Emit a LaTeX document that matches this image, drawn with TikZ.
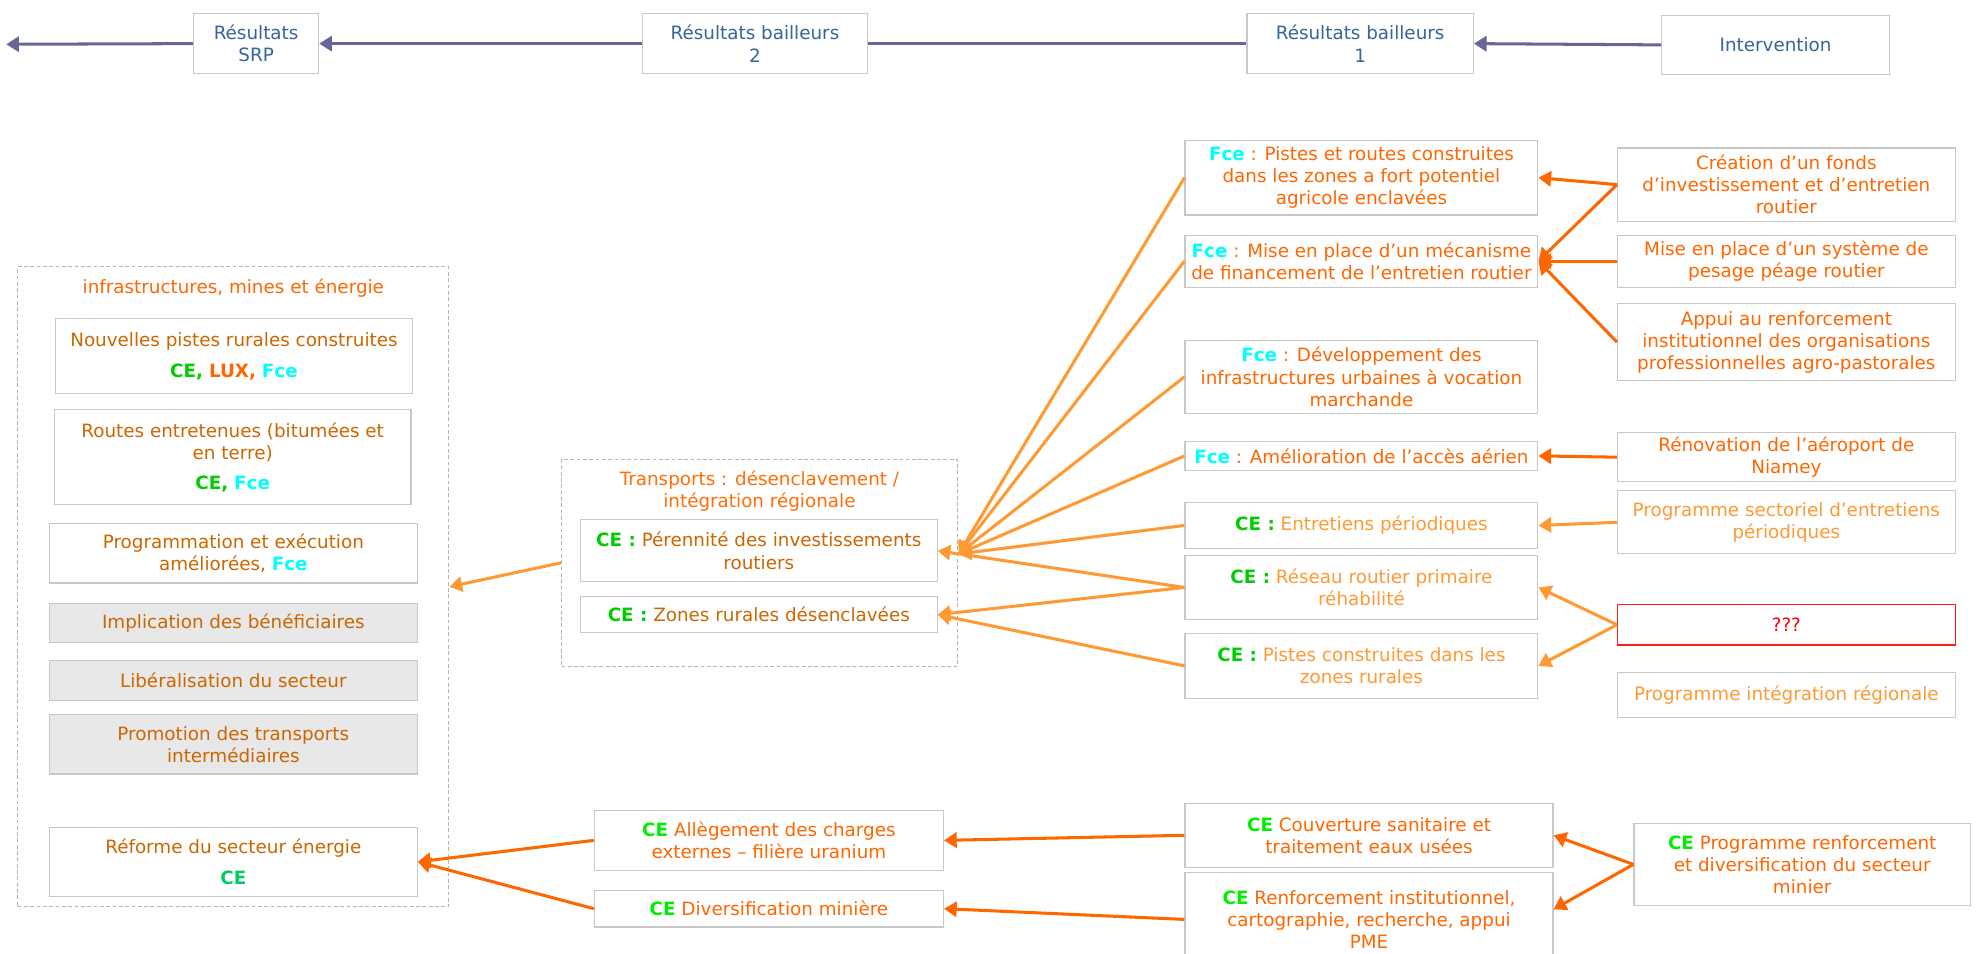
\documentclass[tikz,border=0pt]{standalone}
\usepackage{fontspec}
\setmainfont{DejaVu Sans}
\usetikzlibrary{arrows.meta}
\definecolor{topline}{HTML}{666699}
\definecolor{toptext}{HTML}{35659A}
\definecolor{darkor}{HTML}{FF6600}
\definecolor{lightor}{HTML}{FF9933}
\definecolor{brownor}{HTML}{CC6600}
\definecolor{cegreen}{HTML}{00CC00}
\definecolor{cebright}{HTML}{00EE00}
\definecolor{ceteal}{HTML}{00CC66}
\definecolor{fcecyan}{HTML}{00FFFF}
\definecolor{boxgray}{HTML}{C8C8C8}
\definecolor{graybg}{HTML}{E8E8E8}
\definecolor{dotgray}{HTML}{B4B4B4}
\definecolor{redline}{HTML}{FF1A1A}
\newcommand{\fs}{\fontsize{14.5}{17.5}\selectfont}
\newcommand{\tce}[1]{{\bfseries\color{cegreen}#1}}
\newcommand{\tcb}[1]{{\bfseries\color{cebright}#1}}
\newcommand{\tfce}[1]{{\bfseries\color{fcecyan}#1}}
\newcommand{\tlux}[1]{{\bfseries\color{darkor}#1}}
\tikzset{
  box/.style={draw=boxgray, line width=0.9pt, fill=white, align=center, inner sep=0pt, font=\fs},
  gbox/.style={box, fill=graybg},
  cont/.style={draw=dotgray, line width=0.8pt, densely dashed, inner sep=0pt},
  lbl/.style={align=center, inner sep=0pt, font=\fs},
  arr/.style={line width=2.4pt, -{Triangle[length=10pt,width=12pt]}},
  darr/.style={arr, draw=darkor, fill=darkor},
  larr/.style={arr, draw=lightor, fill=lightor},
  tarr/.style={arr, draw=topline, fill=topline},
}
\begin{document}
\begin{tikzpicture}[x=1pt,y=-1pt]
\useasboundingbox[fill=white] (0,0) rectangle (1568,754);

% top row
\node[box, text=toptext, minimum width=99pt, minimum height=47pt] (srp) at (202.5,34.5) {Résultats\\SRP};
\node[box, text=toptext, minimum width=178pt, minimum height=47pt] (rb2) at (597,34.5) {Résultats bailleurs\\2};
\node[box, text=toptext, minimum width=179pt, minimum height=47pt] (rb1) at (1075.5,34.5) {Résultats bailleurs\\1};
\node[box, text=toptext, minimum width=180pt, minimum height=47pt] (intv) at (1404,35.5) {Intervention};
\coordinate (leftend) at (5,35);

% column 4
\node[box, text=darkor, minimum width=267pt, minimum height=58pt] (cre) at (1412.5,146) {Création d’un fonds\\d’investissement et d’entretien\\routier};
\node[box, text=darkor, minimum width=267pt, minimum height=41pt] (pes) at (1412.5,206.5) {Mise en place d’un système de\\pesage péage routier};
\node[box, text=darkor, minimum width=267pt, minimum height=61pt] (app) at (1412.5,270.5) {Appui au renforcement\\institutionnel des organisations\\professionnelles agro-pastorales};
\node[box, text=darkor, minimum width=267pt, minimum height=39pt] (ren) at (1412.5,361.5) {Rénovation de l’aéroport de\\Niamey};
\node[box, text=lightor, minimum width=267pt, minimum height=50pt] (pse) at (1412.5,413) {Programme sectoriel d’entretiens\\périodiques};
\node[box, draw=redline, text=red, minimum width=267pt, minimum height=32pt] (qqq) at (1412.5,494) {???};
\node[box, text=lightor, minimum width=267pt, minimum height=35pt] (pir) at (1412.5,549.5) {Programme intégration régionale};
\node[box, text=darkor, minimum width=266pt, minimum height=65pt] (prm) at (1425,683.5) {\tcb{CE} Programme renforcement\\et diversification du secteur\\minier};

% column 3
\node[box, text=darkor, minimum width=279pt, minimum height=59pt] (fpr) at (1076.5,140.5) {\tfce{Fce} : Pistes et routes construites\\dans les zones a fort potentiel\\agricole enclavées};
\node[box, text=darkor, minimum width=279pt, minimum height=41pt] (fmi) at (1076.5,206.5) {\tfce{Fce} : Mise en place d’un mécanisme\\de financement de l’entretien routier};
\node[box, text=darkor, minimum width=279pt, minimum height=58pt] (fde) at (1076.5,298) {\tfce{Fce} : Développement des\\infrastructures urbaines à vocation\\marchande};
\node[box, text=darkor, minimum width=279pt, minimum height=23pt] (fam) at (1076.5,360.5) {\tfce{Fce} : Amélioration de l’accès aérien};
\node[box, text=lightor, minimum width=279pt, minimum height=37pt] (cen) at (1076.5,415.5) {\tce{CE :} Entretiens périodiques};
\node[box, text=lightor, minimum width=279pt, minimum height=51pt] (crs) at (1076.5,464.5) {\tce{CE :} Réseau routier primaire\\réhabilité};
\node[box, text=lightor, minimum width=279pt, minimum height=51pt] (cpi) at (1076.5,526.5) {\tce{CE :} Pistes construites dans les\\zones rurales};
\node[box, text=darkor, minimum width=291pt, minimum height=51pt] (cou) at (1082.5,660.5) {\tcb{CE} Couverture sanitaire et\\traitement eaux usées};
\node[box, text=darkor, minimum width=291pt, minimum height=74pt] (crf) at (1082.5,727) {\tcb{CE} Renforcement institutionnel,\\cartographie, recherche, appui\\PME};

% column 2
\node[cont, minimum width=313pt, minimum height=164pt] (trc) at (600.5,445) {};
\node[lbl, text=darkor!85!lightor] (trt) at (600.5,388) {Transports : désenclavement /\\intégration régionale};
\node[box, text=brownor, minimum width=282pt, minimum height=49pt] (per) at (600,435.5) {\tce{CE :} Pérennité des investissements\\routiers};
\node[box, text=brownor, minimum width=282pt, minimum height=28pt] (zon) at (600,486) {\tce{CE :} Zones rurales désenclavées};
\node[box, text=darkor, minimum width=276pt, minimum height=47pt] (all) at (608,664.5) {\tcb{CE} Allègement des charges\\externes – filière uranium};
\node[box, text=darkor, minimum width=276pt, minimum height=29pt] (div) at (608,718.5) {\tcb{CE} Diversification minière};
\coordinate (pc) at (758,438);

% column 1
\node[cont, minimum width=341pt, minimum height=506pt] (lc) at (184.5,464) {};
\node[lbl, text=darkor] (lct) at (184.5,228) {infrastructures, mines et énergie};
\node[box, text=brownor, minimum width=282pt, minimum height=59pt] (npr) at (185,281.5) {Nouvelles pistes rurales construites\\[7pt]\tce{CE,} \tlux{LUX,} \tfce{Fce}};
\node[box, text=brownor, minimum width=282pt, minimum height=75pt] (rte) at (184,361.5) {Routes entretenues (bitumées et\\en terre)\\[6pt]\tce{CE,} \tfce{Fce}};
\node[box, text=brownor, minimum width=291pt, minimum height=47pt] (pgm) at (184.5,437.5) {Programmation et exécution\\améliorées, \tfce{Fce}};
\node[gbox, text=brownor, minimum width=291pt, minimum height=31pt] (imp) at (184.5,492.5) {Implication des bénéficiaires};
\node[gbox, text=brownor, minimum width=291pt, minimum height=32pt] (lib) at (184.5,538) {Libéralisation du secteur};
\node[gbox, text=brownor, minimum width=291pt, minimum height=47pt] (pro) at (184.5,588.5) {Promotion des transports\\intermédiaires};
\node[box, text=brownor, minimum width=291pt, minimum height=55pt] (ref) at (184.5,681.5) {Réforme du secteur énergie\\[7pt]{\bfseries\color{ceteal}CE}};

% top connectors
\draw[tarr] (intv.west) -- (rb1.east);
\draw[topline, line width=2.4pt] (rb1.west) -- (rb2.east);
\draw[tarr] (rb2.west) -- (srp.east);
\draw[tarr] (srp.west) -- (leftend);

% column 4 -> column 3
\draw[darr] (cre.west) -- (fpr.east);
\draw[darr] (cre.west) -- (fmi.east);
\draw[darr] (pes.west) -- (fmi.east);
\draw[darr] (app.west) -- (fmi.east);
\draw[darr] (ren.west) -- (fam.east);
\draw[larr] (pse.west) -- (cen.east);
\draw[larr] (qqq.west) -- (crs.east);
\draw[larr] (qqq.west) -- (cpi.east);
\draw[darr] (prm.west) -- (cou.east);
\draw[darr] (prm.west) -- ([yshift=8pt]crf.east);

% column 3 -> column 2
\draw[larr] (fpr.west) -- (pc);
\draw[larr] (fmi.west) -- (pc);
\draw[larr] (fde.west) -- (pc);
\draw[larr] (fam.west) -- (pc);
\draw[larr] (cen.west) -- (pc);
\draw[larr] (crs.west) -- (per.east);
\draw[larr] (crs.west) -- (zon.east);
\draw[larr] (cpi.west) -- (zon.east);
\draw[darr] (cou.west) -- (all.east);
\draw[darr] (crf.west) -- (div.east);

% column 2 -> column 1
\draw[larr] (trc.west) -- (lc.east);
\draw[darr] (all.west) -- (ref.east);
\draw[darr] (div.west) -- (ref.east);
\end{tikzpicture}
\end{document}
